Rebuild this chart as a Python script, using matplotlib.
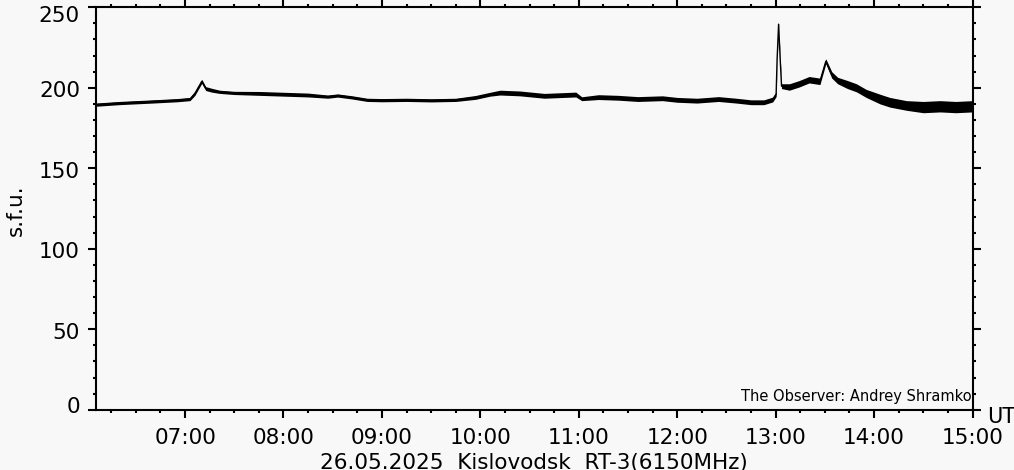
import numpy as np
import matplotlib
matplotlib.use("Agg")
from matplotlib import pyplot as plt
from matplotlib.ticker import MultipleLocator, FixedLocator, FuncFormatter

# Kislovodsk RT-3 6150 MHz flux, 26.05.2025
# time in decimal hours UT
hours = [6.09, 6.33, 6.67, 6.92, 7.05, 7.10, 7.17, 7.21, 7.27, 7.35,
         7.50, 7.75, 8.00, 8.25, 8.45, 8.55, 8.70, 8.85, 9.00, 9.25,
         9.50, 9.75, 9.95, 10.10, 10.20, 10.40, 10.65, 10.85, 10.97, 11.03,
         11.20, 11.40, 11.60, 11.85, 12.00, 12.20, 12.42, 12.60, 12.75, 12.88,
         12.97, 13.005, 13.015, 13.030, 13.046, 13.06, 13.14, 13.24, 13.34, 13.45,
         13.51, 13.57, 13.63, 13.73, 13.82, 13.92, 14.06, 14.16, 14.33, 14.50,
         14.67, 14.83, 15.00]
flux = [189.5, 190.5, 191.5, 192.3, 193.0, 196.5, 204.0, 199.5, 198.5, 197.5,
        196.8, 196.5, 196.0, 195.5, 194.5, 195.2, 194.0, 192.5, 192.3, 192.5,
        192.2, 192.5, 194.0, 196.0, 197.0, 196.5, 195.0, 195.5, 195.8, 193.2,
        194.2, 193.8, 193.0, 193.5, 192.5, 192.0, 193.0, 192.0, 191.0, 191.0,
        192.7, 196.0, 218.0, 239.5, 218.0, 201.0, 200.5, 202.5, 205.0, 204.0,
        216.5, 208.0, 204.5, 202.0, 200.0, 196.5, 193.0, 191.0, 189.0, 188.0,
        188.5, 188.0, 188.5]
# half-width of the noise band around the curve
noise = [1.0, 1.0, 1.0, 1.0, 1.0, 1.2, 1.2, 1.2, 1.2, 1.0,
         1.0, 1.2, 1.2, 1.2, 1.0, 1.0, 1.0, 1.0, 1.0, 1.0,
         1.0, 1.0, 1.2, 1.2, 1.5, 1.5, 1.5, 1.5, 1.5, 1.2,
         1.5, 1.5, 1.5, 1.5, 1.5, 1.5, 1.5, 1.5, 1.5, 1.5,
         1.5, 1.5, 1.5, 0.5, 1.5, 1.5, 2.0, 2.0, 2.0, 2.0,
         1.5, 2.0, 2.0, 2.5, 2.5, 2.5, 3.0, 3.0, 3.0, 3.5,
         3.5, 3.5, 3.5]

yticks = [0, 50, 100, 150, 200, 250]
title = "26.05.2025  Kislovodsk  RT-3(6150MHz)"
observer = "The Observer: Andrey Shramko"

bg = "#f8f8f8"
W, H = 1014, 470

fig = plt.figure(figsize=(W / 100, H / 100), dpi=100, facecolor=bg)
ax = fig.add_axes((95.5 / W, 1 - 409.7 / H, 877 / W, 402.4 / H))
ax.set_facecolor(bg)

t = np.array(hours)
f = np.array(flux)
n = np.array(noise)
ax.fill_between(t, f - n, f + n, color="black", lw=0)
ax.plot(t, f, color="black", lw=1.0)

ax.set_xlim(6.09, 15.0)
ax.set_ylim(0, 250)

ax.xaxis.set_major_locator(MultipleLocator(1.0))
ax.xaxis.set_minor_locator(MultipleLocator(0.25))
ax.xaxis.set_major_formatter(FuncFormatter(lambda v, p: "%02d:00" % round(v)))
ax.yaxis.set_major_locator(FixedLocator(yticks))
ax.yaxis.set_minor_locator(MultipleLocator(10))

for s in ax.spines.values():
    s.set_linewidth(1.5)

ax.tick_params(which="both", direction="out", top=True, right=True,
               width=1.5, labelsize=15.5, colors="black", labelleft=False)
ax.tick_params(which="major", length=5.5)
ax.tick_params(which="minor", length=2.5)
ax.tick_params(axis="x", pad=8)

# y labels drawn by hand: the end ones sit inside the frame, like the original
for v in yticks:
    dy = -1.5
    if v == yticks[-1]:
        dy = -7
    elif v == yticks[0]:
        dy = 5
    ax.annotate(str(v), xy=(0, v), xycoords=ax.get_yaxis_transform(),
                xytext=(-15.5, dy), textcoords="offset pixels",
                ha="right", va="center_baseline", fontsize=15.5)

ax.text(0.999, 0.021, observer, transform=ax.transAxes, ha="right",
        va="baseline", fontsize=10.5)

fig.text(534 / W, 1 - 468.5 / H, title, ha="center", va="baseline",
         fontsize=15.5)
fig.text(987 / W, 1 - 423 / H, "UT", ha="left", va="baseline", fontsize=15)
fig.text(15.5 / W, 1 - 210 / H, "s.f.u.", rotation=90, ha="center",
         va="center", fontsize=15.5)

fig.savefig("out.png", dpi=100, facecolor=bg)
